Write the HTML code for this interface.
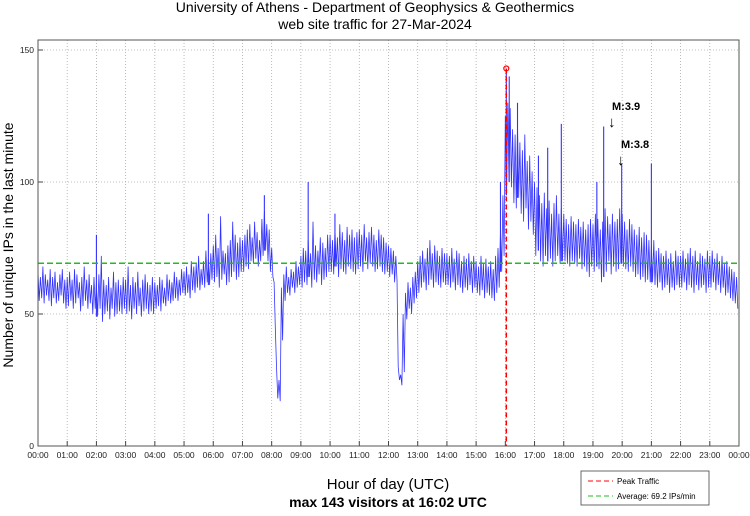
<!DOCTYPE html>
<html><head><meta charset="utf-8"><style>
body{margin:0;background:#fff;width:750px;height:511px;overflow:hidden;font-family:"Liberation Sans",sans-serif}
</style></head><body>
<svg id="c" width="750" height="511" xmlns="http://www.w3.org/2000/svg" font-family="Liberation Sans, sans-serif">
<text x="375" y="12" text-anchor="middle" font-size="14">University of Athens - Department of Geophysics &amp; Geothermics</text>
<text x="375" y="29" text-anchor="middle" font-size="14">web site traffic for 27-Mar-2024</text>
<text transform="translate(13,245) rotate(-90)" text-anchor="middle" font-size="14">Number of unique IPs in the last minute</text>
<text x="388" y="489" text-anchor="middle" font-size="15">Hour of day (UTC)</text>
<text x="388" y="507" text-anchor="middle" font-size="14" font-weight="bold">max 143 visitors at 16:02 UTC</text>
<g id="grid"></g>
<g id="series"></g>
<g id="overlay"></g>
<g id="axes"></g>
<g>
<rect x="581" y="471" width="128" height="34" fill="#fff" stroke="#444" stroke-width="0.8"/>
<line x1="588" y1="481" x2="613" y2="481" stroke="#f00" stroke-dasharray="5,3"/>
<text x="617" y="484" font-size="8">Peak Traffic</text>
<line x1="588" y1="496" x2="613" y2="496" stroke="#2b2" stroke-dasharray="5,3"/>
<text x="617" y="499" font-size="8">Average: 69.2 IPs/min</text>
</g>
<text x="612" y="110" font-size="11" font-weight="bold">M:3.9</text>
<text x="608" y="127" font-size="15">↓</text>
<text x="621" y="148" font-size="11" font-weight="bold">M:3.8</text>
<text x="617" y="165" font-size="15">↓</text>
</svg>
<script>
const hiVals=[
66,64,68,65,63,67,64,66,62,65,67,63, 64,66,63,67,65,62,64,68,63,65,61,64,
62,65,72,63,61,64,60,66,62,63,61,64, 63,68,61,64,62,66,60,63,65,62,61,64,
62,61,64,63,60,65,63,62,66,64,63,67, 66,68,65,70,68,69,72,67,70,74,71,73,
76,80,75,87,74,73,76,78,85,80,77,79, 78,80,82,84,79,85,81,78,86,89,84,82,
75,62,30,25,60,65,68,64,67,66,70,68, 72,75,74,78,73,85,76,74,79,77,75,80,
80,78,82,79,84,81,78,83,80,82,79,81, 82,80,84,79,81,83,80,78,82,80,79,77,
76,75,74,72,30,27,50,58,62,60,64,66, 70,72,74,71,75,78,73,76,74,72,75,73,
73,72,75,71,74,73,70,72,71,73,70,72, 70,68,72,69,71,68,70,67,72,75,82,95,
125,130,128,120,118,122,115,112,118,108,110,104, 100,98,95,92,96,90,93,88,92,95,88,90,
88,86,84,87,85,84,86,83,85,82,84,86, 84,88,86,82,85,90,87,84,88,85,86,90,
88,85,82,86,84,82,80,83,79,81,80,78, 76,78,74,75,73,72,74,71,73,70,74,72,
72,74,71,73,75,72,74,70,73,72,71,74, 72,74,71,73,70,72,69,70,68,67,66,64];
const loVals=[
55,56,54,57,55,53,56,54,55,57,54,52, 53,55,52,54,56,51,53,55,52,54,50,52,
49,52,47,50,51,48,52,49,50,51,50,52, 50,51,48,52,50,53,49,51,52,50,51,50,
52,53,51,54,53,55,54,55,56,55,57,58, 57,58,56,59,58,60,59,61,60,62,61,63,
62,64,60,63,65,61,62,64,66,63,64,66, 66,68,67,70,69,71,68,70,72,74,70,66,
64,45,18,17,40,55,58,57,60,58,60,61, 60,62,61,64,60,63,62,65,61,63,64,66,
66,65,68,64,67,66,65,68,67,66,65,67, 68,66,70,67,69,68,66,67,68,66,65,66,
64,65,62,63,25,23,28,48,52,50,54,56, 58,60,62,59,61,63,60,62,61,60,62,61,
61,60,62,59,61,60,58,60,59,61,58,60, 58,57,59,56,58,57,56,55,58,60,66,72,
95,100,98,92,90,94,88,85,90,82,85,80, 72,74,70,68,72,70,71,68,70,72,69,70,
70,69,68,70,69,68,71,67,68,66,64,68, 66,68,67,62,64,66,70,65,68,66,67,69,
68,67,66,68,66,64,65,63,64,62,63,62, 62,61,60,62,59,60,61,58,60,59,61,60,
60,62,59,61,60,58,61,59,60,61,58,60, 60,62,59,61,58,60,57,58,56,55,54,52];
const spikeMinutes=[120,350,465,555,610,950,962,968,985,1028,1047,1075,1148,1162,1199,1260];
const spikeValues=[80,88,95,100,88,100,143,140,130,110,113,122,100,121,107,107];
const yTicks=[0,50,100,150];
const xTickLabels=["00:00","01:00","02:00","03:00","04:00","05:00","06:00","07:00","08:00","09:00","10:00","11:00","12:00","13:00","14:00","15:00","16:00","17:00","18:00","19:00","20:00","21:00","22:00","23:00","00:00"];
const avgValue=69.2, peakMinute=962, peakValue=143;

const X0=38,X1=739,Y0=446,YTOP=40;
const xs=m=>X0+(X1-X0)*m/1440;
const ys=v=>Y0-(Y0-50)*v/150;
const NS="http://www.w3.org/2000/svg";
function mk(tag,attrs,parent){const e=document.createElementNS(NS,tag);for(const k in attrs)e.setAttribute(k,attrs[k]);document.getElementById(parent).appendChild(e);return e;}

xTickLabels.forEach((l,i)=>{
  const x=xs(i*60);
  if(i>0&&i<24){const g=mk('line',{x1:x,x2:x,y1:YTOP,y2:Y0,stroke:'#aaa','stroke-dasharray':'1,2','stroke-width':0.8},'grid');
  
  }
  const t=mk('line',{x1:x,x2:x,y1:Y0,y2:Y0-5,stroke:'#444'},'axes');
  
  
  const tx=mk('text',{x:x,y:Y0+12,'font-size':8.5,'text-anchor':'middle',fill:'#222'},'axes');
  tx.textContent=l;
  
  
});
yTicks.forEach(v=>{
  const y=ys(v);
  if(v>0){const g=mk('line',{x1:X0,x2:X1,y1:y,y2:y,stroke:'#aaa','stroke-dasharray':'1,2','stroke-width':0.8},'grid');
  
  }
  const tk=mk('line',{x1:X0,x2:X0+5,y1:y,y2:y,stroke:'#444'},'axes');
  
  
  const tx=mk('text',{x:X0-4,y:y+3,'font-size':8.5,'text-anchor':'end',fill:'#222'},'axes');
  tx.textContent=v;
  
  
});
const fr=mk('rect',{x:X0,y:YTOP,width:X1-X0,height:Y0-YTOP,fill:'none',stroke:'#555','stroke-width':1},'axes');



let pts=[];
hiVals.forEach((h,i)=>{
  pts.push(xs(i*5).toFixed(1)+','+ys(h).toFixed(1));
  pts.push(xs(i*5+2.5).toFixed(1)+','+ys(loVals[i]).toFixed(1));
});
const ln=mk('polyline',{points:pts.join(' '),fill:'none',stroke:'#00f','stroke-width':0.8,'stroke-opacity':0.8},'series');


spikeMinutes.forEach((m,i)=>{
  const b=loVals[Math.min(287,Math.floor(m/5))];
  const s=mk('line',{x1:xs(m),x2:xs(m),y1:ys(b),y2:ys(spikeValues[i]),stroke:'#33f','stroke-width':1.1},'series');
  
  
});

const av=mk('line',{x1:X0,x2:X1,y1:ys(avgValue),y2:ys(avgValue),stroke:'#2b2','stroke-width':1.5,'stroke-dasharray':'6,3'},'overlay');


const pk=mk('line',{x1:xs(peakMinute),x2:xs(peakMinute),y1:ys(peakValue),y2:Y0,stroke:'#f00','stroke-width':1.5,'stroke-dasharray':'5,3'},'overlay');


const pc=mk('circle',{cx:xs(peakMinute),cy:ys(peakValue),r:2.5,fill:'none',stroke:'#f00','stroke-width':1.2},'overlay');


</script>
</body></html>
